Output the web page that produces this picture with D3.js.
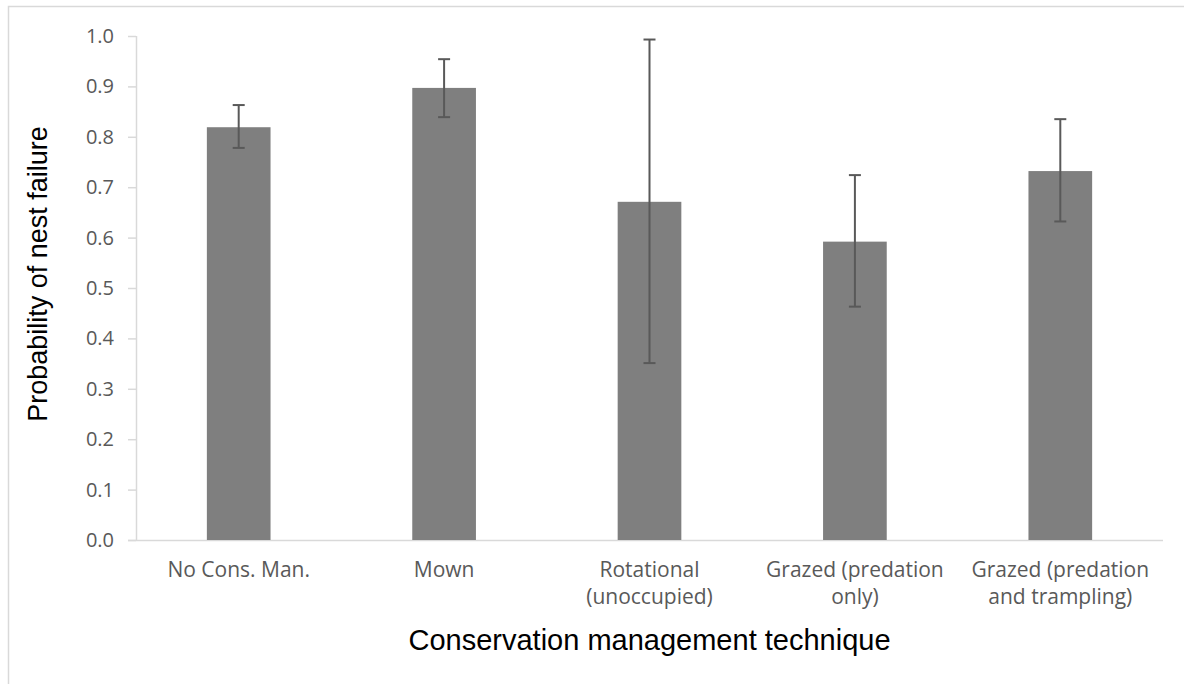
<!DOCTYPE html>
<html lang="en">
<head>
    <meta charset="UTF-8">
    <title>Nest failure</title>
    <script src="https://cdn.jsdelivr.net/npm/d3@7"></script>
    <style>
        body { margin: 0; background: #fff; }
    </style>
</head>
<body>
</body>
<script>
    const categories = ["No Cons. Man.", "Mown", "Rotational\n(unoccupied)", "Grazed (predation\nonly)", "Grazed (predation\nand trampling)"];
    const values = [0.819, 0.897, 0.671, 0.592, 0.732];
    const upper = [0.863, 0.954, 0.993, 0.724, 0.835];
    const lower = [0.778, 0.839, 0.351, 0.463, 0.632];
    const yTicks = [0, 0.1, 0.2, 0.3, 0.4, 0.5, 0.6, 0.7, 0.8, 0.9, 1.0];

    const width = 1184;
    const height = 684;
    const margin = { top: 36, right: 21, bottom: 144, left: 136 };

    const svg = d3.select("body")
        .append("svg")
        .attr("width", width)
        .attr("height", height);

    // chart area border (only top and left show in the picture)
    svg.append("path")
        .attr("d", `M8.5,${height} V6.5 H${width}`)
        .attr("fill", "none")
        .attr("stroke", "#d9d9d9")
        .attr("stroke-width", 1.5);

    const x = d3.scaleBand()
        .domain(categories)
        .range([margin.left, width - margin.right])
        .paddingInner(0.69)
        .paddingOuter(0.345);

    const y = d3.scaleLinear()
        .domain([0, 1])
        .range([height - margin.bottom, margin.top]);

    // y axis
    const yAxis = svg.append("g")
        .attr("transform", `translate(${margin.left},0)`)
        .call(d3.axisLeft(y).tickValues(yTicks).tickFormat(d3.format(".1f")).tickSize(8).tickPadding(14));
    yAxis.select(".domain").attr("stroke", "#d9d9d9").attr("stroke-width", 1.5)
        .attr("d", `M0.5,${y(1)}V${y(0)}`);
    yAxis.selectAll(".tick line").attr("stroke", "#d9d9d9").attr("stroke-width", 1.5);
    yAxis.selectAll(".tick text")
        .attr("fill", "#595959")
        .style("font-family", "'Open Sans', sans-serif")
        .style("font-size", "20px");

    // x axis line
    svg.append("line")
        .attr("x1", margin.left - 8)
        .attr("x2", width - margin.right)
        .attr("y1", y(0) + 0.5)
        .attr("y2", y(0) + 0.5)
        .attr("stroke", "#d9d9d9")
        .attr("stroke-width", 1.5);

    // bars
    svg.append("g")
        .selectAll("rect")
        .data(values)
        .join("rect")
        .attr("x", (d, i) => x(categories[i]))
        .attr("y", d => y(d))
        .attr("width", x.bandwidth())
        .attr("height", d => y(0) - y(d))
        .attr("fill", "#7f7f7f");

    // error bars
    const err = svg.append("g")
        .attr("stroke", "#595959")
        .attr("stroke-width", 2);
    categories.forEach((c, i) => {
        const cx = x(c) + x.bandwidth() / 2;
        err.append("line").attr("x1", cx).attr("x2", cx).attr("y1", y(upper[i])).attr("y2", y(lower[i]));
        err.append("line").attr("x1", cx - 6).attr("x2", cx + 6).attr("y1", y(upper[i])).attr("y2", y(upper[i]));
        err.append("line").attr("x1", cx - 6).attr("x2", cx + 6).attr("y1", y(lower[i])).attr("y2", y(lower[i]));
    });

    // category labels
    const labels = svg.append("g")
        .selectAll("text")
        .data(categories)
        .join("text")
        .attr("x", d => x(d) + x.bandwidth() / 2)
        .attr("y", y(0) + 37)
        .attr("text-anchor", "middle")
        .attr("fill", "#595959")
        .style("font-family", "'Open Sans', sans-serif")
        .style("font-size", "21px");
    labels.each(function (d) {
        const t = d3.select(this);
        d.split("\n").forEach((line, j) => {
            t.append("tspan")
                .attr("x", t.attr("x"))
                .attr("dy", j === 0 ? 0 : 27)
                .text(line);
        });
    });

    // axis titles
    svg.append("text")
        .attr("x", (margin.left + width - margin.right) / 2)
        .attr("y", 650)
        .attr("text-anchor", "middle")
        .style("font-family", "'Liberation Sans', Arial, sans-serif")
        .style("font-size", "29px")
        .attr("fill", "#000")
        .text("Conservation management technique");

    svg.append("text")
        .attr("transform", `translate(47,${(y(0) + y(1)) / 2 - 14}) rotate(-90)`)
        .attr("text-anchor", "middle")
        .style("font-family", "'Liberation Sans', Arial, sans-serif")
        .style("font-size", "27px")
        .attr("fill", "#000")
        .text("Probability of nest failure");
</script>
</html>
